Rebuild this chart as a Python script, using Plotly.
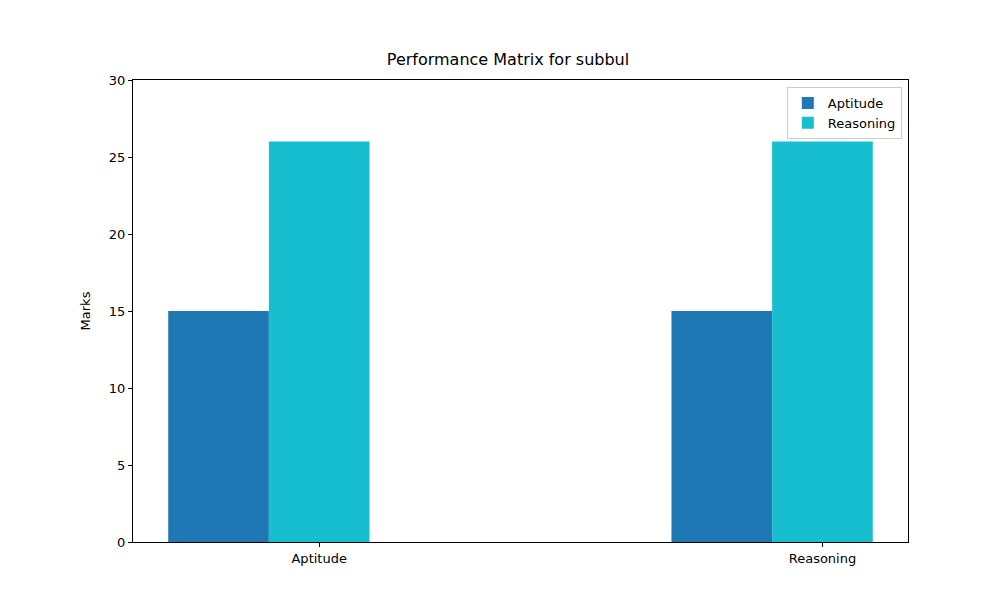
import plotly.graph_objects as go

categories = ["Aptitude", "Reasoning"]
positions = [0, 1]
aptitude_marks = [15, 15]
reasoning_marks = [26, 26]

fig = go.Figure()
fig.add_trace(go.Bar(x=positions, y=aptitude_marks, name="Aptitude",
                     marker_color="#1f77b4", marker_line_width=0,
                     width=0.2, offset=-0.3))
fig.add_trace(go.Bar(x=positions, y=reasoning_marks, name="Reasoning",
                     marker_color="#17becf", marker_line_width=0,
                     width=0.2, offset=-0.1))

axis_common = dict(showline=True, linecolor="black", linewidth=1, mirror=True,
                   ticks="outside", ticklen=4, tickcolor="black",
                   showgrid=False, zeroline=False,
                   tickfont=dict(size=13, color="black"))
fig.update_xaxes(range=[-0.37, 1.17], tickvals=positions, ticktext=categories,
                 **axis_common)
fig.update_yaxes(range=[0, 30], dtick=5, title_text="Marks",
                 title_font=dict(size=13, color="black"), **axis_common)

fig.update_layout(
    width=1000, height=600,
    margin=dict(l=125, r=100, t=72, b=66),
    paper_bgcolor="white", plot_bgcolor="white",
    font=dict(family="DejaVu Sans", size=13, color="black"),
    title=dict(text="Performance Matrix for subbul", x=0.5, xanchor="center",
               y=0.905, yanchor="bottom", font=dict(size=16)),
    barmode="overlay",
    legend=dict(x=0.992, y=0.985, xanchor="right", yanchor="top",
                bordercolor="#cccccc", borderwidth=1, bgcolor="white",
                font=dict(size=13)),
)

fig.write_html("out.html")
